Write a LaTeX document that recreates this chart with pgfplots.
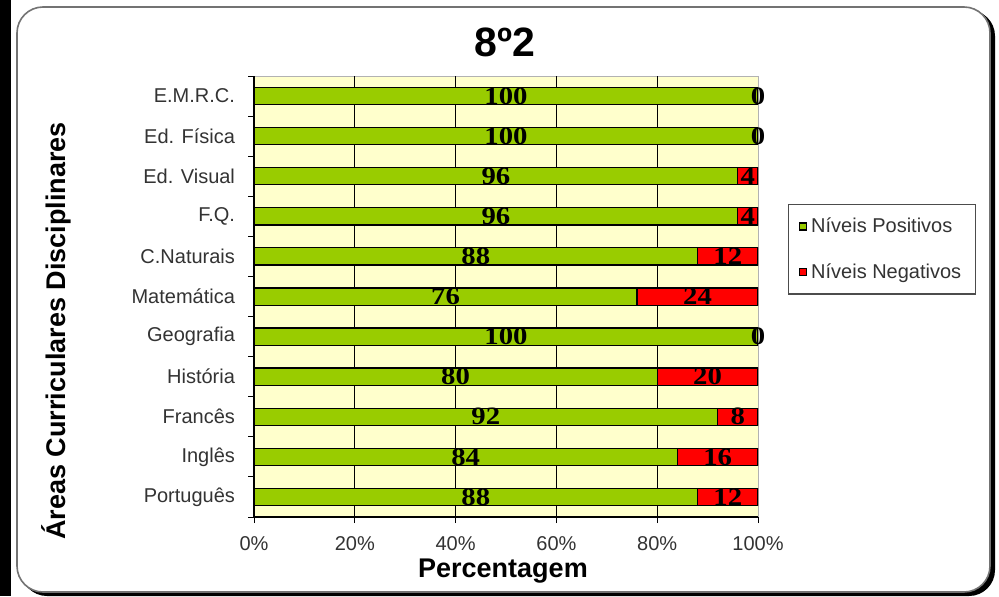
\documentclass[border=0pt]{standalone}
\usepackage{pgfplots}
\pgfplotsset{compat=1.18}
\usepackage{fontspec}
\setmainfont{Liberation Sans}
\newfontfamily\labelfont[FakeStretch=1.15]{Liberation Serif}
\definecolor{posgreen}{HTML}{99CC00}
\definecolor{negred}{HTML}{FF0000}
\definecolor{plotbg}{HTML}{FFFFCC}
\definecolor{ticktext}{HTML}{333333}

\begin{document}
\begin{tikzpicture}
% frame, drawn in pixel units of the original (y downwards)
\begin{scope}[x=0.5pt, y=-0.5pt, yshift=298pt]
  \fill[white] (0,0) rectangle (999,596);
  \fill[black] (0,0) rectangle (11,596);
  \fill[black, rounded corners=13pt] (21,10) rectangle (995,596);
  \filldraw[fill=white, draw=black!55, line width=0.8pt, rounded corners=13pt] (17,7) rectangle (990,592);
\end{scope}

\begin{axis}[
  at={(127pt,39.5pt)}, anchor=south west,
  scale only axis, width=252pt, height=220.5pt,
  xbar stacked, bar width=8.6pt,
  xmin=0, xmax=100, ymin=-0.5, ymax=10.5,
  axis background/.style={fill=plotbg, draw=black!30},
  axis x line*=bottom, axis y line*=left,
  axis line style={black, line width=0.6pt},
  xtick={0,20,...,100},
  xticklabels={0\%,20\%,40\%,60\%,80\%,100\%},
  minor xtick={20,40,60,80},
  xminorgrids, minor grid style={black, line width=0.5pt},
  ytick={0,...,10},
  yticklabels={Português,Inglês,Francês,História,Geografia,Matemática,C.Naturais,F.Q.,Ed. Visual,Ed. Física,E.M.R.C.},
  minor ytick={-0.5,0.5,...,10.5},
  tick align=outside,
  major tick length=3pt, minor tick length=3pt,
  tick style={black, line width=0.5pt},
  major y tick style={draw=none},
  minor x tick style={draw=none},
  tick label style={font=\fontsize{10}{12}\selectfont, text=ticktext},
  yticklabel style={xshift=-3pt},
  xticklabel style={yshift=-3pt},
  title={8º2},
  title style={font=\bfseries\fontsize{20.5}{24}\selectfont, at={(axis description cs:0.498,1.05)}, anchor=center, yshift=0pt},
  xlabel={Percentagem},
  xlabel style={font=\bfseries\fontsize{13.5}{16}\selectfont, at={(axis description cs:0.494,-0.123)}, anchor=center},
  ylabel={Áreas Curriculares Disciplinares},
  ylabel style={font=\bfseries\fontsize{13.5}{16}\selectfont, at={(axis description cs:-0.393,0.422)}, anchor=center},
  legend style={at={(axis description cs:1.0595,0.7098)}, anchor=north west,
                draw=black!70, line width=0.6pt, fill=white,
                inner xsep=5pt, inner ysep=4.5pt, row sep=10pt,
                font=\fontsize{10}{12}\selectfont, text=ticktext,
                cells={anchor=west}},
  legend image code/.code={\draw[#1, draw=black, line width=0.7pt] (0pt,-1.8pt) rectangle (3.6pt,1.8pt);},
]
\addplot[fill=posgreen, draw=black, line width=0.6pt] coordinates {
  (88,0) (84,1) (92,2) (80,3) (100,4) (76,5) (88,6) (96,7) (96,8) (100,9) (100,10)};
\addplot[fill=negred, draw=black, line width=0.6pt] coordinates {
  (12,0) (16,1) (8,2) (20,3) (0,4) (24,5) (12,6) (4,7) (4,8) (0,9) (0,10)};
\legend{Níveis Positivos, Níveis Negativos}
\end{axis}

% value labels, centred in each segment
\begin{axis}[
  at={(127pt,39.5pt)}, anchor=south west,
  scale only axis, width=252pt, height=220.5pt,
  xmin=0, xmax=100, ymin=-0.5, ymax=10.5,
  hide axis, clip=false,
  nodes near coords, point meta=explicit symbolic,
  every node near coord/.append style={anchor=center, text=black, inner sep=0pt,
    font=\labelfont\bfseries\fontsize{12.5}{14}\selectfont},
]
\addplot[draw=none, mark=none] coordinates {
  (44,0) [88] (42,1) [84] (46,2) [92] (40,3) [80] (50,4) [100] (38,5) [76]
  (44,6) [88] (48,7) [96] (48,8) [96] (50,9) [100] (50,10) [100]};
\addplot[draw=none, mark=none] coordinates {
  (94,0) [12] (92,1) [16] (96,2) [8] (90,3) [20] (100,4) [0] (88,5) [24]
  (94,6) [12] (98,7) [4] (98,8) [4] (100,9) [0] (100,10) [0]};
\end{axis}

\pgfresetboundingbox
\path[use as bounding box] (0,0) rectangle (499.5pt,298pt);
\end{tikzpicture}
\end{document}
